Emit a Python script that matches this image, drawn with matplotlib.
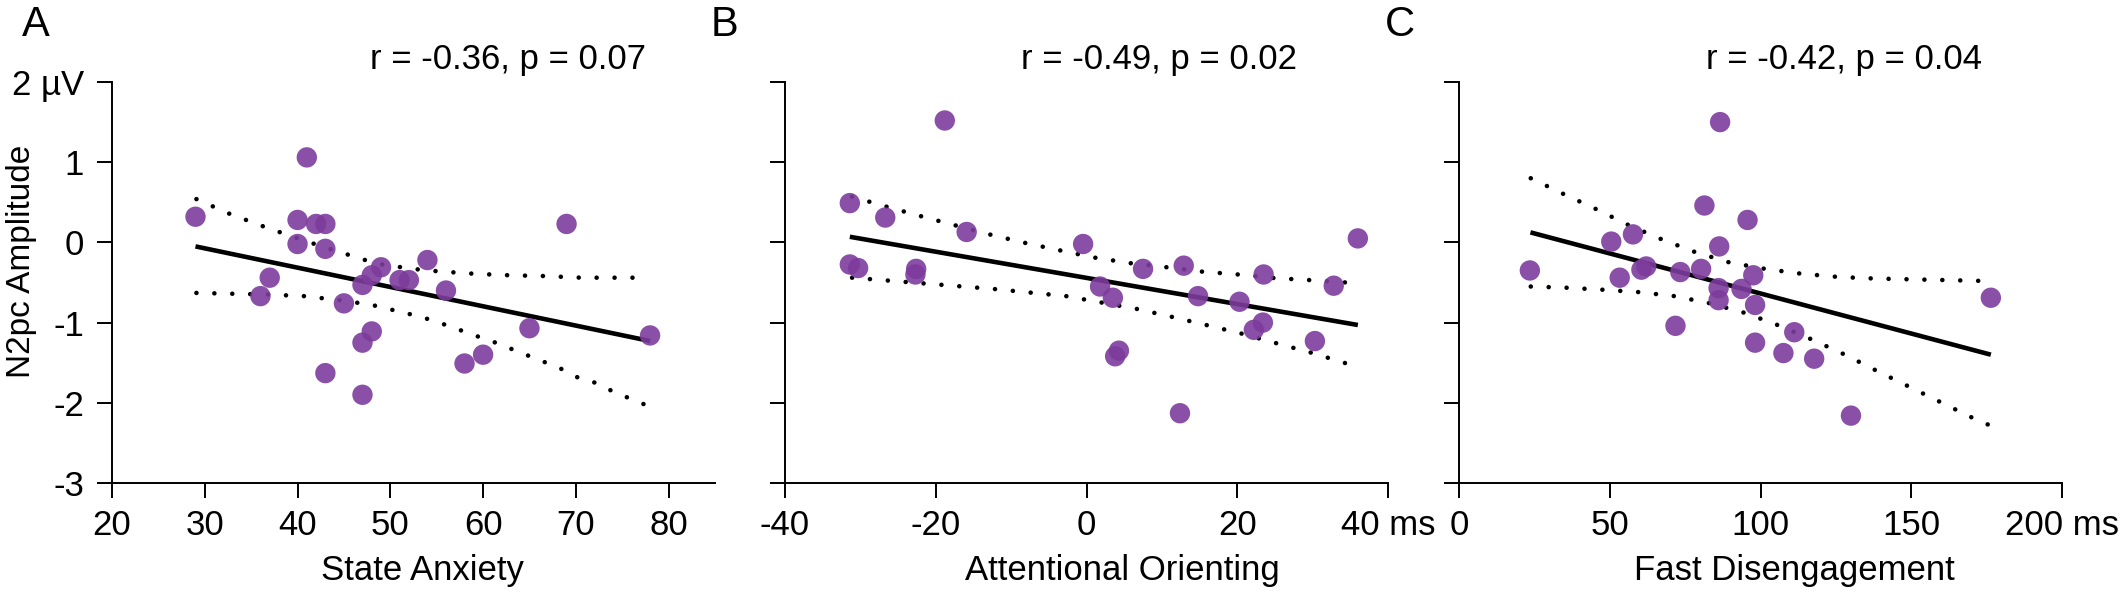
import matplotlib
matplotlib.use('Agg')
import matplotlib.pyplot as plt

plt.rcParams['font.family'] = ['Liberation Sans', 'DejaVu Sans']

# ---- panel A : State Anxiety ----
anx_x = [29, 41, 40, 40, 42, 43, 43, 37, 36, 45, 47, 48, 49, 51, 52, 54, 56,
         48, 47, 43, 47, 58, 60, 65, 69, 78]
anx_y = [0.32, 1.06, 0.28, -0.02, 0.23, 0.23, -0.08, -0.44, -0.67, -0.76, -0.53,
         -0.41, -0.31, -0.47, -0.47, -0.22, -0.60, -1.11, -1.25, -1.63, -1.90,
         -1.51, -1.40, -1.07, 0.23, -1.16]
anx_fit_x = [29, 78]
anx_fit_y = [-0.05, -1.23]
anx_hi_x = [29.1, 32.6, 36.3, 40.0, 43.7, 47.3, 49.3, 51.2, 53.2, 55.1, 58.9, 62.8, 66.7, 70.6, 74.4, 77.5]
anx_hi_y = [0.54, 0.36, 0.20, 0.05, -0.09, -0.22, -0.28, -0.31, -0.34, -0.36, -0.39, -0.41, -0.42, -0.44, -0.44, -0.44]
anx_lo_x = [29.1, 32.9, 36.8, 40.7, 44.5, 46.6, 48.4, 52.3, 54.2, 56.0, 59.6, 61.6, 63.3, 66.9, 68.7, 70.3, 72.4, 74.0, 77.6]
anx_lo_y = [-0.63, -0.64, -0.65, -0.67, -0.72, -0.755, -0.79, -0.90, -0.96, -1.03, -1.18, -1.26, -1.34, -1.505, -1.59, -1.69, -1.76, -1.86, -2.03]

# ---- panel B : Attentional Orienting ----
ori_x = [-18.8, -31.4, -26.7, -15.9, -31.4, -30.3, -22.6, -22.7, -0.45, 7.5, 12.9,
         23.5, 36.0, 32.8, 1.8, 3.5, 14.8, 20.3, 23.4, 22.2, 30.3, 4.3, 3.8, 12.4]
ori_y = [1.52, 0.49, 0.31, 0.13, -0.275, -0.32, -0.33, -0.40, -0.02, -0.33, -0.29,
         -0.40, 0.05, -0.54, -0.55, -0.69, -0.67, -0.74, -1.00, -1.09, -1.23, -1.35,
         -1.42, -2.13]
ori_fit_x = [-31.4, 36.0]
ori_fit_y = [0.07, -1.03]
ori_hi_x = [-31.1, -26.7, -22.1, -17.5, -12.9, -8.2, -3.5, 1.1, 5.9, 10.65, 15.4, 20.1, 24.9, 29.6, 34.5]
ori_hi_y = [0.57, 0.45, 0.33, 0.215, 0.10, -0.005, -0.10, -0.19, -0.26, -0.31, -0.365, -0.40, -0.445, -0.47, -0.50]
ori_lo_x = [-31.1, -21.8, -12.4, -2.7, 2.0, 6.7, 11.4, 16.1, 20.7, 25.3, 30.0, 34.5]
ori_lo_y = [-0.44, -0.51, -0.58, -0.67, -0.75, -0.83, -0.93, -1.035, -1.14, -1.26, -1.38, -1.51]

# ---- panel C : Fast Disengagement ----
dis_x = [86.6, 81.4, 95.7, 57.7, 50.5, 86.3, 23.5, 53.3, 60.5, 62.1, 73.4, 80.3,
         97.6, 86.1, 93.7, 86.1, 98.2, 71.8, 111.2, 98.2, 107.6, 117.8, 130.0, 176.4]
dis_y = [1.50, 0.46, 0.28, 0.10, 0.01, -0.05, -0.35, -0.44, -0.34, -0.30, -0.37,
         -0.33, -0.41, -0.57, -0.58, -0.72, -0.78, -1.04, -1.12, -1.25, -1.38, -1.45,
         -2.16, -0.69]
dis_fit_x = [23.7, 176.4]
dis_fit_y = [0.125, -1.40]
dis_hi_x = [23.8, 34.3, 45.2, 56.0, 67.1, 78.3, 89.7, 101.5, 113.4, 125.5, 137.3, 173.4]
dis_hi_y = [0.80, 0.61, 0.42, 0.22, 0.04, -0.12, -0.25, -0.33, -0.39, -0.43, -0.45, -0.48]
dis_lo_x = [23.8, 35.6, 47.6, 59.6, 71.5, 83.3, 94.9, 106.0, 117.0, 128.0, 138.5, 171.0, 176.0]
dis_lo_y = [-0.55, -0.565, -0.59, -0.62, -0.67, -0.76, -0.88, -1.035, -1.21, -1.40, -1.60, -2.20, -2.28]

y_ticks = [-3, -2, -1, 0, 1, 2]
y_labels = ['-3', '-2', '-1', '0', '1', '2 µV']

panels = [
    dict(x=anx_x, y=anx_y, fx=anx_fit_x, fy=anx_fit_y, hx=anx_hi_x, hy=anx_hi_y,
         lx=anx_lo_x, ly=anx_lo_y, xlim=(20, 85), xticks=[20, 30, 40, 50, 60, 70, 80],
         xticklabels=['20', '30', '40', '50', '60', '70', '80'],
         xlabel='State Anxiety', label_x=0.514, stat='r = -0.36, p = 0.07',
         stat_x=508, letter='A', letter_x=36, left=112),
    dict(x=ori_x, y=ori_y, fx=ori_fit_x, fy=ori_fit_y, hx=ori_hi_x, hy=ori_hi_y,
         lx=ori_lo_x, ly=ori_lo_y, xlim=(-40, 40), xticks=[-40, -20, 0, 20, 40],
         xticklabels=['-40', '-20', '0', '20', '40 ms'],
         xlabel='Attentional Orienting', label_x=0.559, stat='r = -0.49, p = 0.02',
         stat_x=1159, letter='B', letter_x=724, left=785),
    dict(x=dis_x, y=dis_y, fx=dis_fit_x, fy=dis_fit_y, hx=dis_hi_x, hy=dis_hi_y,
         lx=dis_lo_x, ly=dis_lo_y, xlim=(0, 200), xticks=[0, 50, 100, 150, 200],
         xticklabels=['0', '50', '100', '150', '200 ms'],
         xlabel='Fast Disengagement', label_x=0.557, stat='r = -0.42, p = 0.04',
         stat_x=1844, letter='C', letter_x=1400, left=1459),
]

W, H = 2120, 597
fig = plt.figure(figsize=(W / 100, H / 100), dpi=100)

# round dots about 18 px apart
dot_lw = 3.3
dot_style = (0, (0.01, 3.9))
purple = '#7D3C9C'

for i, p in enumerate(panels):
    ax = fig.add_axes([p['left'] / W, 1 - 483 / H, 603 / W, 401 / H])
    ax.plot(p['hx'], p['hy'], color='black', lw=dot_lw, ls=dot_style, dash_capstyle='round')
    ax.plot(p['lx'], p['ly'], color='black', lw=dot_lw, ls=dot_style, dash_capstyle='round')
    ax.plot(p['fx'], p['fy'], color='black', lw=3.3, solid_capstyle='butt')
    ax.scatter(p['x'], p['y'], s=215, color=purple, alpha=0.9, edgecolors='none', zorder=3)

    ax.set_xlim(p['xlim'])
    ax.set_ylim(-3, 2)
    ax.set_xticks(p['xticks'])
    ax.set_xticklabels(p['xticklabels'])
    ax.set_yticks(y_ticks)
    if i == 0:
        ax.set_yticklabels(y_labels)
    else:
        ax.set_yticklabels([])

    for side in ['top', 'right']:
        ax.spines[side].set_visible(False)
    for side in ['left', 'bottom']:
        ax.spines[side].set_linewidth(1.4)
    ax.tick_params(axis='both', direction='out', length=11, width=1.4,
                   labelsize=25, colors='black')
    ax.tick_params(axis='x', pad=8)
    ax.tick_params(axis='y', pad=9)

    ax.set_xlabel(p['xlabel'], fontsize=25, va='center')
    ax.xaxis.set_label_coords(p['label_x'], -0.219)

    fig.text(p['stat_x'] / W, 1 - 59 / H, p['stat'], fontsize=25, ha='center', va='center')
    fig.text(p['letter_x'] / W, 1 - 25 / H, p['letter'], fontsize=30, ha='center', va='center')

fig.text(22 / W, 1 - 261 / H, 'N2pc Amplitude', fontsize=24, rotation=90,
         ha='center', va='center')

fig.savefig('out.png', dpi=100)
